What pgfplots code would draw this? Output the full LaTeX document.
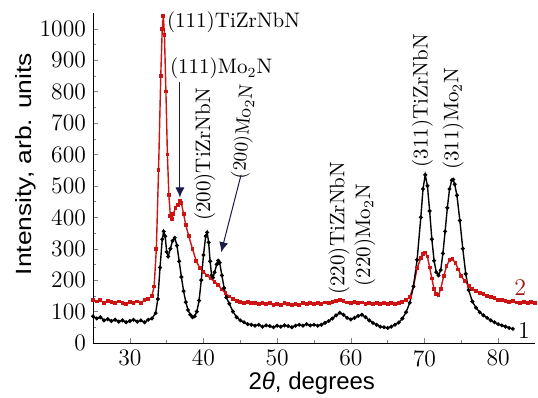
\documentclass[border=0pt]{standalone}
\usepackage{fontspec}
\usepackage{graphicx}
\usepackage{pgfplots}
\pgfplotsset{compat=1.18}
\usetikzlibrary{arrows.meta}
\newfontfamily\lsans{Liberation Sans}
\definecolor{rcol}{RGB}{205,20,20}
\definecolor{rlab}{RGB}{160,20,20}
\definecolor{navy}{RGB}{25,25,75}
\begin{document}
\begin{tikzpicture}
\useasboundingbox (0,0) rectangle (269pt,199pt);
\begin{axis}[
  at={(46.5pt,27.5pt)}, anchor=south west,
  scale only axis, width=221pt, height=165pt,
  xmin=25, xmax=85, ymin=0, ymax=1050,
  axis lines*=left,
  clip=false,
  xtick={30,40,...,80}, ytick={0,100,...,1000},
  minor x tick num=1, minor y tick num=1,
  tick align=inside,
  major tick length=2.5pt, minor tick length=1.5pt,
  /pgf/number format/assume math mode=true,
  /pgf/number format/1000 sep={},
  ticklabel style={font=\fontsize{11.8}{13}\selectfont},
  xlabel={2\textit{θ}, degrees},
  xlabel style={font=\lsans\fontsize{12}{14}\selectfont, at={(rel axis cs:0.495,-0.121)}, anchor=center},
  ylabel={\scalebox{1.2}[1]{Intensity, arb. units}},
  ylabel style={font=\lsans\fontsize{11}{13}\selectfont, at={(rel axis cs:-0.152,0.542)}, anchor=center},
]
% curve 2 (red)
\addplot[rcol, line width=0.7pt, mark=square*, mark size=0.6pt] coordinates {
(25,138)(25.5,132)(26,136)(26.5,128)(27,134)(27.5,130)(28,126)(28.5,132)(29,128)(29.5,124)
(30,130)(30.5,126)(31,132)(31.5,128)(32,136)(32.5,140)(33,150)(33.3,180)(33.6,300)(33.9,550)
(34.2,850)(34.4,1000)(34.55,1040)(34.7,980)(34.9,800)(35.1,600)(35.3,470)(35.5,405)(35.7,395)
(35.9,410)(36.2,430)(36.5,440)(36.8,452)(37.0,445)(37.3,410)(37.6,375)(38.0,340)(38.5,300)
(39.0,262)(39.5,238)(40.0,226)(40.5,215)(41.0,205)(41.5,195)(42.0,185)(42.5,170)(43.0,158)
(43.5,148)(44,140)(44.5,134)(45,130)(45.5,127)(46,130)(46.5,126)(47,128)(47.5,124)(48,127)
(48.5,123)(49,126)(49.5,122)(50,125)(50.5,122)(51,126)(51.5,123)(52,121)(52.5,125)(53,122)
(53.5,126)(54,123)(54.5,127)(55,124)(55.5,128)(56,125)(56.5,129)(57,127)(57.5,131)(58,134)
(58.5,138)(59,133)(59.5,129)(60,127)(60.5,130)(61,126)(61.5,129)(62,125)(62.5,128)(63,124)
(63.5,127)(64,123)(64.5,126)(65,124)(65.5,127)(66,125)(66.5,128)(67,130)(67.5,136)(68,146)
(68.5,180)(69,238)(69.5,270)(69.8,282)(70.1,288)(70.4,275)(70.7,240)(71.0,205)(71.3,172)
(71.6,155)(71.9,152)(72.2,172)(72.6,212)(73.0,245)(73.4,264)(73.8,266)(74.2,255)(74.6,234)
(75,212)(75.5,196)(76,182)(76.5,172)(77,165)(77.5,160)(78,156)(78.5,150)(79,146)(79.5,142)
(80,138)(80.5,136)(81,134)(81.5,131)(82,133)(82.5,129)(83,127)(83.5,131)(84,128)(84.5,130)(85,126)
};
% curve 1 (black)
\addplot[black, line width=0.7pt, mark=*, mark size=0.6pt] coordinates {
(25,85)(25.5,78)(26,82)(26.5,72)(27,76)(27.5,70)(28,74)(28.5,68)(29,72)(29.5,66)
(30,70)(30.5,74)(31,68)(31.5,72)(32,66)(32.5,74)(33,78)(33.5,95)(33.8,140)(34.1,240)
(34.4,330)(34.6,355)(34.8,340)(35.0,290)(35.2,275)(35.5,300)(35.8,325)(36.1,335)(36.4,310)
(36.7,260)(37.0,210)(37.3,165)(37.6,130)(37.9,105)(38.2,90)(38.5,82)(38.8,85)(39.1,100)
(39.4,135)(39.7,200)(40.0,280)(40.3,340)(40.5,352)(40.7,320)(40.9,260)(41.1,215)(41.3,208)
(41.5,225)(41.8,250)(42.0,262)(42.2,255)(42.5,215)(42.8,175)(43.1,145)(43.5,125)(44.0,100)
(44.5,82)(45,72)(45.5,66)(46,60)(46.5,58)(47,55)(47.5,58)(48,52)(48.5,56)(49,54)(49.5,50)
(50,55)(50.5,52)(51,56)(51.5,54)(52,50)(52.5,55)(53,58)(53.5,55)(54,60)(54.5,56)(55,58)
(55.5,55)(56,58)(56.5,64)(57,70)(57.5,78)(58,88)(58.5,96)(59,90)(59.5,80)(60,75)(60.5,80)
(61,86)(61.5,90)(62,82)(62.5,72)(63,64)(63.5,58)(64,52)(64.5,50)(65,48)(65.5,52)(66,58)
(66.5,65)(67,78)(67.5,98)(68,128)(68.5,180)(69,265)(69.5,400)(69.8,490)(70.1,535)(70.4,500)
(70.7,420)(71.0,330)(71.3,262)(71.6,225)(71.9,215)(72.2,232)(72.5,285)(72.8,355)(73.1,430)
(73.4,490)(73.7,518)(73.9,520)(74.1,505)(74.4,470)(74.8,390)(75.2,300)(75.6,220)(76.0,168)
(76.5,132)(77,112)(77.5,98)(78,88)(78.5,80)(79,72)(79.5,66)(80,60)(80.5,56)(81,52)(81.5,48)(82,45)
};
\begin{scope}[font=\fontsize{10.5}{12}\selectfont]
\node[anchor=west, inner sep=0pt] at (axis cs:35.0,1019) {(111)TiZrNbN};
\node[anchor=west, inner sep=0pt] at (axis cs:35.4,873) {(111)Mo$_2$N};
\node[rotate=90, inner sep=0pt] at (axis cs:40.2,600) {(200)TiZrNbN};
\node[rotate=85, inner sep=0pt, font=\fontsize{9.6}{11}\selectfont] at (axis cs:45.5,672) {(200)Mo$_2$N};
\node[rotate=90, inner sep=0pt] at (axis cs:58.4,365) {(220)TiZrNbN};
\node[rotate=90, inner sep=0pt] at (axis cs:61.9,343) {(220)Mo$_2$N};
\node[rotate=90, inner sep=0pt] at (axis cs:69.7,771) {(311)TiZrNbN};
\node[rotate=90, inner sep=0pt] at (axis cs:73.9,714) {(311)Mo$_2$N};
\node[text=rlab, inner sep=0pt, font=\fontsize{12}{14}\selectfont] at (axis cs:83.0,178) {2};
\node[text=black, inner sep=0pt, font=\fontsize{12}{14}\selectfont] at (axis cs:83.5,40) {1};
\end{scope}
\draw[navy, line width=0.5pt, -{Latex[length=5pt,width=4.5pt]}] (axis cs:36.8,829) -- (axis cs:36.8,463);
\draw[navy, line width=0.5pt, -{Latex[length=5pt,width=4.5pt]}] (axis cs:45.1,535) -- (axis cs:42.4,289);
\end{axis}
\end{tikzpicture}
\end{document}
